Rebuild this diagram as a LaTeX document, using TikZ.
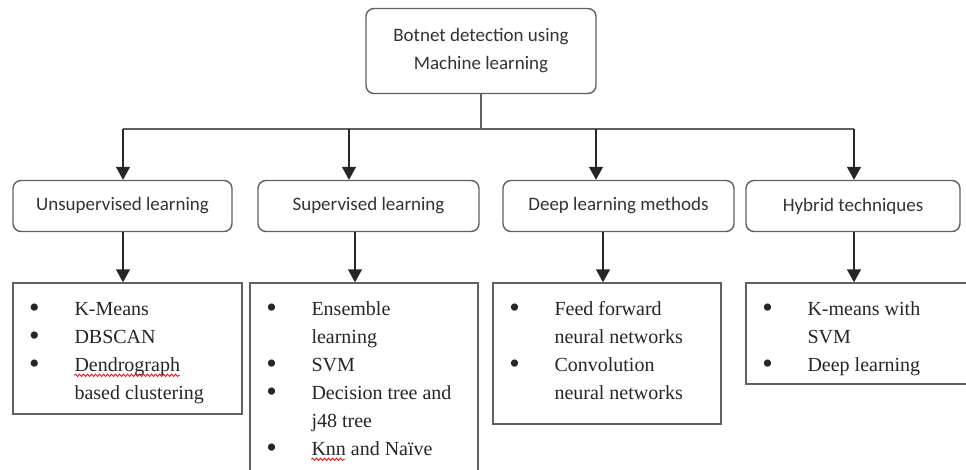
\documentclass[tikz,border=0pt]{standalone}
\usepackage{fontspec}
\usetikzlibrary{arrows.meta,calc,decorations.pathmorphing}
\newfontfamily\catfont{Carlito}
\newfontfamily\listfont{Liberation Serif}
\definecolor{boxgray}{HTML}{606060}
\definecolor{txtgray}{HTML}{333333}
\newcommand{\itm}[1]{\strut\makebox[44pt][l]{\makebox[8pt]{\raisebox{-2pt}{\fontsize{30}{28}\selectfont\textbullet}}}#1}
\newcommand{\cnt}[1]{\strut\hspace*{44pt}#1}
\newlength\wordA
\newlength\wordB
\settowidth{\wordA}{\listfont\fontsize{20}{28}\selectfont Dendrograph}
\settowidth{\wordB}{\listfont\fontsize{20}{28}\selectfont Knn}

\begin{document}
\begin{tikzpicture}[x=1pt,y=-1pt,
    catbox/.style={draw=boxgray, line width=1.4pt, rounded corners=8pt, fill=white,
        font=\catfont\fontsize{19}{28}\selectfont, text=txtgray, align=center, minimum height=51pt},
    listbox/.style={draw=boxgray, line width=1.4pt, fill=white},
    listtext/.style={anchor=north west, inner sep=0pt, align=left, text=black!85,
        font=\listfont\fontsize{20}{28}\selectfont},
    squiggle/.style={draw=red, line width=0.8pt, decorate,
        decoration={snake, amplitude=1.2pt, segment length=4pt}},
    arr/.style={draw=black!85, line width=1.4pt, -{Triangle[width=14pt,length=13pt]}}]
    \useasboundingbox (0,0) rectangle (966,469);
    \clip (0,0) rectangle (966,469);

    \node[catbox, minimum width=230pt, minimum height=85pt] (top) at (481,51)
        {Botnet detection using\\Machine learning};

    \node[catbox, minimum width=219pt] (unsup) at (122.5,206) {Unsupervised learning};
    \node[catbox, minimum width=221pt] (sup) at (368.5,206) {Supervised learning};
    \node[catbox, minimum width=231pt] (deep) at (618.5,206) {Deep learning methods};
    \node[catbox, minimum width=214pt] (hyb) at (853,206) {Hybrid techniques};

    \node[listbox, minimum width=229pt, minimum height=131pt] (listA) at (127.5,348.5) {};
    \node[listbox, minimum width=228pt, minimum height=197pt] (listB) at (364,381.5) {};
    \node[listbox, minimum width=228pt, minimum height=141pt] (listC) at (607,353.5) {};
    \node[listbox, minimum width=229pt, minimum height=101pt] (listD) at (860.5,333.5) {};

    \node[listtext] (itemsA) at ($(listA.north west)+(18,13)$)
        {\itm{K-Means}\\\itm{DBSCAN}\\\itm{Dendrograph}\\\cnt{based clustering}};
    \node[listtext] (itemsB) at ($(listB.north west)+(18,13)$)
        {\itm{Ensemble}\\\cnt{learning}\\\itm{SVM}\\\itm{Decision tree and}\\\cnt{j48 tree}\\\itm{Knn and Naïve}};
    \node[listtext] (itemsC) at ($(listC.north west)+(18,13)$)
        {\itm{Feed forward}\\\cnt{neural networks}\\\itm{Convolution}\\\cnt{neural networks}};
    \node[listtext] (itemsD) at ($(listD.north west)+(18,13)$)
        {\itm{K-means with}\\\cnt{SVM}\\\itm{Deep learning}};

    \coordinate (waveA) at ($(itemsA.north west)+(44,80)$);
    \coordinate (waveB) at ($(itemsB.north west)+(44,164)$);
    \draw[squiggle] (waveA) -- ++(\wordA,0);
    \draw[squiggle] (waveB) -- ++(\wordB,0);

    \coordinate (busA) at (123,129);
    \coordinate (busB) at (349,129);
    \coordinate (busC) at (596,129);
    \coordinate (busD) at (854,129);
    \coordinate (stem) at (top.south |- busA);

    \draw[draw=boxgray, line width=1.4pt] (top.south) -- (stem);
    \draw[draw=boxgray, line width=1.4pt] (busA) -- (busD);
    \draw[arr] (busA) -- (busA |- unsup.north);
    \draw[arr] (busB) -- (busB |- sup.north);
    \draw[arr] (busC) -- (busC |- deep.north);
    \draw[arr] (busD) -- (busD |- hyb.north);

    \draw[arr] (123,0 |- unsup.south) -- (123,0 |- listA.north);
    \draw[arr] (355,0 |- sup.south) -- (355,0 |- listB.north);
    \draw[arr] (603,0 |- deep.south) -- (603,0 |- listC.north);
    \draw[arr] (854,0 |- hyb.south) -- (854,0 |- listD.north);
\end{tikzpicture}
\end{document}
